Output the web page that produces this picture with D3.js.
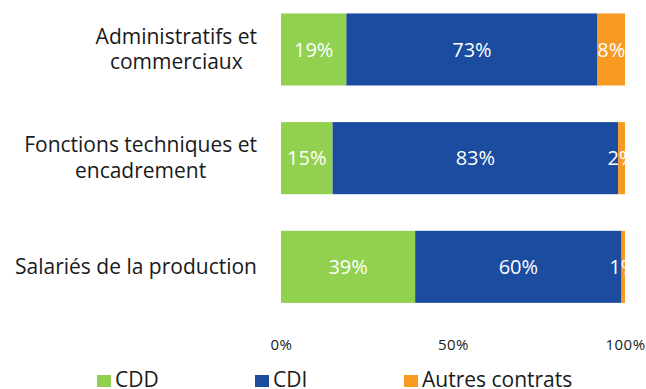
<!DOCTYPE html>
<html>
<head>
<meta charset="utf-8">
<script src="https://cdn.jsdelivr.net/npm/d3@7"></script>
<style>
  html, body { margin: 0; padding: 0; background: #fff; }
  svg { display: block; font-family: "Open Sans", "Noto Sans", sans-serif; }
</style>
</head>
<body>
<svg id="chart" width="646" height="389"></svg>
<script>
// Categories (top to bottom), each label split into its display lines
const categories = ["Administratifs et commerciaux", "Fonctions techniques et encadrement", "Salariés de la production"];
const categoryLines = [["Administratifs et", "commerciaux"], ["Fonctions techniques et", "encadrement"], ["Salariés de la production"]];

// Share of each contract type, in percent
const seriesNames = ["CDD", "CDI", "Autres contrats"];
const cdd = [19, 15, 39];
const cdi = [73, 83, 60];
const autres = [8, 2, 1];

const tickValues = [0, 50, 100];
const tickLabels = ["0%", "50%", "100%"];

const colors = ["#92d050", "#1b4c9f", "#f79a22"];

const svg = d3.select("#chart");

const x = d3.scaleLinear().domain([0, 100]).range([281, 625]);
const y = d3.scaleBand().domain(categories).range([8, 308.3]).paddingInner(0.337).paddingOuter(0.05);

const rows = categories.map((c, i) => ({ cat: c, CDD: cdd[i], CDI: cdi[i], "Autres contrats": autres[i] }));
const stacked = d3.stack().keys(seriesNames)(rows);

const layers = svg.append("g").selectAll("g")
  .data(stacked).join("g")
  .attr("fill", (d, i) => colors[i]);

layers.selectAll("rect")
  .data(d => d).join("rect")
  .attr("x", d => x(d[0]))
  .attr("y", d => y(d.data.cat))
  .attr("width", d => x(d[1]) - x(d[0]))
  .attr("height", y.bandwidth());

// Value labels, centred in each segment
const labels = svg.append("g");
stacked.forEach(layer => {
  layer.forEach(d => {
    labels.append("text")
      .attr("x", (x(d[0]) + x(d[1])) / 2)
      .attr("y", y(d.data.cat) + y.bandwidth() / 2)
      .attr("dy", "0.36em")
      .attr("text-anchor", "middle")
      .attr("fill", "#fff")
      .attr("font-size", 20)
      .text((d[1] - d[0]) + "%");
  });
});

// Category labels: block right-aligned to the axis, lines centred within the block
const catG = svg.append("g");
const labelRight = 257;
const lineHeight = 25.5;
categories.forEach((c, i) => {
  const lines = categoryLines[i];
  const cy = y(c) + y.bandwidth() / 2;
  const texts = lines.map((ln, j) => catG.append("text")
    .attr("y", cy + 7 + (j - (lines.length - 1) / 2) * lineHeight)
    .attr("text-anchor", "middle")
    .attr("font-size", 21)
    .attr("fill", "#1a1a1a")
    .text(ln));
  const maxW = d3.max(texts, t => t.node().getComputedTextLength());
  texts.forEach(t => t.attr("x", labelRight - maxW / 2));
});

// X axis (labels only)
const axis = d3.axisBottom(x).tickValues(tickValues).tickFormat((d, i) => tickLabels[i]).tickSize(0);
const ax = svg.append("g").attr("transform", "translate(0,336)").call(axis);
ax.select(".domain").remove();
ax.selectAll("text").attr("font-size", 15).attr("fill", "#222").attr("font-family", "'Open Sans', sans-serif").attr("letter-spacing", "0.5px");

// Legend
const legendX = [97, 255, 404];
const lg = svg.append("g");
seriesNames.forEach((n, i) => {
  lg.append("rect").attr("x", legendX[i]).attr("y", 375).attr("width", 14).attr("height", 12).attr("fill", colors[i]);
  lg.append("text").attr("x", legendX[i] + 18).attr("y", 387)
    .attr("font-size", 21).attr("fill", "#1a1a1a").text(n);
});
</script>
</body>
</html>
